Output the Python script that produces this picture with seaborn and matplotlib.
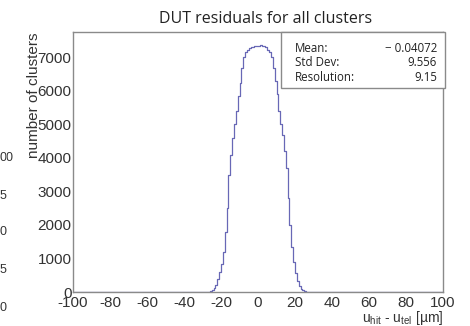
import numpy as np
import pandas as pd
import matplotlib
matplotlib.use("Agg")
import matplotlib.pyplot as plt
import seaborn as sns
from matplotlib.ticker import MultipleLocator
from matplotlib.patches import Rectangle

# ---- data: 1 um bins from -100 to 100 ----
bin_edges = list(range(-100, 101))
# counts for bins between -30 and +30 (outside: empty)
counts_left = [2, 3, 6, 12, 25, 55, 110, 220, 380, 600, 850, 1200, 1800, 2500, 3500,
               4100, 4600, 5000, 5400, 5850, 6250, 6700, 7000, 7150, 7230, 7280, 7310,
               7320, 7330, 7340]
counts_right = [7350, 7360, 7340, 7330, 7300, 7220, 7150, 7000, 6700, 6300, 5900, 5400,
                5000, 4700, 4200, 3700, 2800, 2000, 1350, 900, 580, 330, 180, 90, 45,
                20, 10, 5, 3, 2]
counts = [0] * 70 + counts_left + counts_right + [0] * 70
x_ticks = [-100, -80, -60, -40, -20, 0, 20, 40, 60, 80, 100]
y_ticks = [0, 1000, 2000, 3000, 4000, 5000, 6000, 7000]
stat_names = ["Mean:", "Std Dev:", "Resolution:"]
stat_values = ["\u2212 0.04072", "9.556", "9.15"]
title = "DUT residuals for all clusters"

centers = [(a + b) / 2 for a, b in zip(bin_edges[:-1], bin_edges[1:])]
df = pd.DataFrame({"u": centers, "n": counts})

sns.set_style("white")
plt.rcParams["font.family"] = ["Liberation Sans", "DejaVu Sans"]
plt.rcParams["axes.unicode_minus"] = False
plt.rcParams["mathtext.fontset"] = "custom"
plt.rcParams["mathtext.rm"] = "Liberation Sans"
plt.rcParams["mathtext.it"] = "Liberation Sans:italic"

W, H = 470, 326
fig = plt.figure(figsize=(W / 100, H / 100), dpi=100)
L, R, T, B = 73, 443, 32, 292
ax = fig.add_axes([L / W, 1 - B / H, (R - L) / W, (B - T) / H])

sns.histplot(data=df, x="u", weights="n", bins=bin_edges, element="step",
             fill=False, color="#6868b6", linewidth=0.9, ax=ax)

ax.set_xlim(-100, 100)
ax.set_ylim(0, 7760)
ax.set_xticks(x_ticks)
ax.set_yticks(y_ticks)
ax.xaxis.set_minor_locator(MultipleLocator(4))
ax.yaxis.set_minor_locator(MultipleLocator(100))
ax.set_xlabel("")
ax.set_ylabel("")
for s in ax.spines.values():
    s.set_color("#8a8a8a")
    s.set_linewidth(1.0)
ax.tick_params(which="both", direction="in", color="#666666", top=False, right=False)
ax.tick_params(axis="y", which="major", length=13, width=0.8, pad=1, labelsize=11,
               labelcolor="#333333")
ax.tick_params(axis="y", which="minor", length=6, width=0.6)
ax.tick_params(axis="x", which="major", length=8, width=0.8, pad=3, labelsize=11,
               labelcolor="#333333")
ax.tick_params(axis="x", which="minor", length=4, width=0.6)

# axis titles
fig.text(34 / W, 1 - T / H, "number of clusters", rotation=90, ha="center", va="top",
         fontsize=11, color="#333333")
fig.text(443 / W, 1 - 318 / H, r"u$_{\rm hit}$ - u$_{\rm tel}$ [µm]",
         ha="right", va="center", fontsize=10, color="#333333")

# title
fig.text(266 / W, 1 - 19 / H, title, ha="center", va="center", fontsize=11.5,
         family=["Open Sans", "DejaVu Sans"], color="#222222")

# statistics box
fig.patches.append(Rectangle((281 / W, 1 - 88 / H), (445 - 281) / W, (88 - 32) / H,
                             transform=fig.transFigure, fill=True, facecolor="white",
                             edgecolor="#8a8a8a", linewidth=1.0))
for i, (nm, val) in enumerate(zip(stat_names, stat_values)):
    yy = 1 - (48 + 15 * i) / H
    fig.text(295 / W, yy, nm, ha="left", va="center", fontsize=8.3,
             family=["Open Sans", "DejaVu Sans"], color="#222222")
    fig.text(437 / W, yy, val, ha="right", va="center", fontsize=8.3,
             family=["Open Sans", "DejaVu Sans"], color="#222222")

# fragments of a neighbouring panel at the left edge
for txt, yy in [("00", 158), ("5", 196), ("0", 232), ("5", 270), ("0", 308)]:
    fig.text(0, 1 - yy / H, txt, ha="left", va="center", fontsize=9, color="#333333")

fig.savefig("out.png", dpi=100)
